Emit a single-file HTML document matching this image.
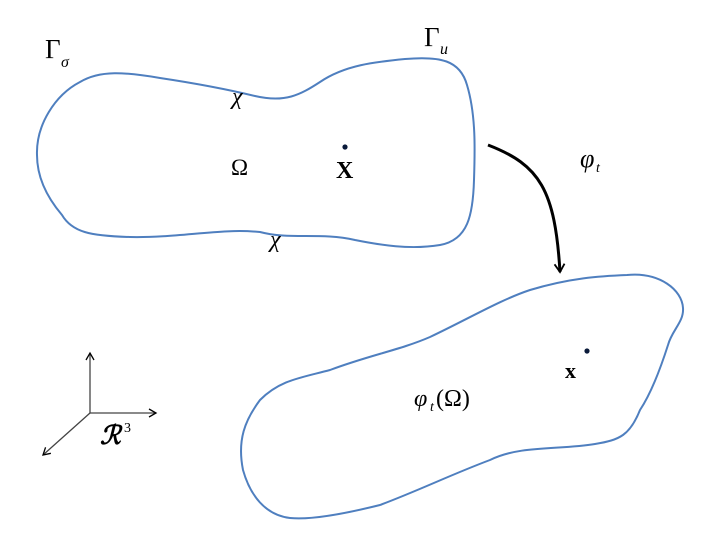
<!DOCTYPE html>
<html><head><style>
html,body{margin:0;padding:0;background:#fff;}
svg text{font-family:"Liberation Serif",serif;}
</style></head><body>
<svg width="720" height="540" viewBox="0 0 720 540" xmlns="http://www.w3.org/2000/svg">
<defs>
<marker id="ah" markerWidth="10" markerHeight="10" refX="8" refY="5" orient="auto" markerUnits="userSpaceOnUse">
<path d="M1,1 L8,5 L1,9" fill="none" stroke="#000" stroke-width="1.3"/>
</marker>
<marker id="ah2" markerWidth="12" markerHeight="12" refX="9" refY="6" orient="auto" markerUnits="userSpaceOnUse">
<path d="M1,1 L9,6 L1,11" fill="none" stroke="#000" stroke-width="1.8"/>
</marker>
</defs>
<path d="M37,155 C36,125 55,95 80,82 C100,70 125,72 160,78 C200,84 230,90 255,96 C285,103 300,95 320,82 C345,65 375,62 405,59 C440,56 460,60 467,85 C476,115 475,150 474,180 C473,215 468,240 440,245 C410,250 380,245 355,240 C320,232 290,240 260,232 C220,228 180,238 130,237 C90,236 72,232 62,215 C45,195 37,175 37,155 Z" fill="none" stroke="#4f7fbf" stroke-width="2"/>
<path d="M627,275 C660,272 682,290 683,308 C684,322 672,330 668,345 C660,370 650,395 640,410 C630,435 620,440 595,444 C560,450 520,445 490,460 C450,475 420,490 380,505 C340,515 310,520 290,518 C265,515 250,495 243,470 C237,440 245,420 260,400 C280,380 300,378 330,370 C370,355 400,350 430,337 C470,318 500,300 530,290 C570,278 600,276 627,275 Z" fill="none" stroke="#4f7fbf" stroke-width="2"/>
<path d="M488,145 C540,165 555,190 560,272" fill="none" stroke="#000" stroke-width="3" marker-end="url(#ah2)"/>
<g stroke="#444" stroke-width="1.3" fill="none">
<line x1="90" y1="413" x2="90" y2="353" marker-end="url(#ah)"/>
<line x1="90" y1="413" x2="156" y2="413" marker-end="url(#ah)"/>
<line x1="90" y1="413" x2="43" y2="455" marker-end="url(#ah)"/>
</g>
<circle cx="345" cy="147" r="2.6" fill="#0a1a3a"/>
<circle cx="587" cy="351" r="2.6" fill="#0a1a3a"/>
<text x="45" y="58" font-size="27">Γ</text><text x="61" y="67" font-size="16" font-style="italic">σ</text>
<text x="424" y="46" font-size="27">Γ</text><text x="440" y="54" font-size="16" font-style="italic">u</text>
<text x="232" y="104" font-size="24" font-style="italic">χ</text>
<text x="270" y="247" font-size="24" font-style="italic">χ</text>
<text x="231" y="175" font-size="23">Ω</text>
<text x="336" y="178" font-size="24" font-weight="bold">X</text>
<text x="580" y="167" font-size="26" font-style="italic">φ</text><text x="596" y="172" font-size="14" font-style="italic">t</text>
<text x="565" y="378" font-size="22" font-weight="bold">x</text>
<text x="414" y="406" font-size="24" font-style="italic">φ</text><text x="430" y="411" font-size="14" font-style="italic">t</text><text x="436" y="406" font-size="24">(Ω)</text>
<text x="100" y="444" font-size="26" font-style="italic" font-weight="bold">ℛ</text><text x="124" y="432" font-size="14">3</text>
</svg>
</body></html>
